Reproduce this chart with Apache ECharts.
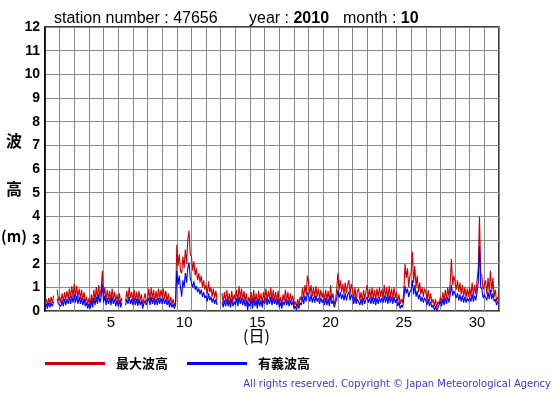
<!DOCTYPE html>
<html><head><meta charset="utf-8">
<script src="https://cdn.jsdelivr.net/npm/echarts@6/dist/echarts.min.js"></script>
<style>html,body{margin:0;padding:0;background:#fff}#c{width:555px;height:395px}</style>
</head><body><div id="c"></div>
<script>
// 2-hourly readings (12 per day), October 2010, station 47656
const maxWave = [
/*1*/ 0.3,0.5,0.25,0.55,0.3,0.6,0.35,0.65,null,null,0.9,0.45,
/*2*/ 0.6,0.35,0.75,0.4,0.8,0.45,0.85,0.5,0.95,0.55,1.05,0.6,
/*3*/ 1.15,0.6,1.05,0.55,0.95,0.5,0.9,0.45,0.8,0.35,0.6,0.25,
/*4*/ 0.55,0.25,0.7,0.3,0.9,0.45,1.0,0.5,1.1,0.6,0.95,1.7,
/*5*/ 0.6,1.0,0.45,0.9,0.5,0.85,0.4,0.95,0.5,0.8,0.4,0.7,
/*6*/ 0.35,0.75,0.3,0.55,null,null,0.4,0.85,0.5,1.0,0.55,0.8,
/*7*/ 0.4,0.9,0.45,0.8,0.35,0.85,0.45,0.7,0.25,0.5,0.75,0.4,
/*8*/ 0.5,0.95,0.45,1.0,0.5,0.9,0.4,0.85,0.45,0.95,0.5,0.9,
/*9*/ 0.55,0.95,0.5,0.85,0.4,0.75,0.3,0.6,0.3,0.5,0.2,0.4,
/*10*/ 2.8,1.9,2.4,1.7,1.6,2.3,1.8,2.6,2.0,3.0,3.4,2.4,
/*11*/ 2.3,1.7,2.1,1.5,1.8,1.3,1.6,1.2,1.5,1.0,1.3,0.9,
/*12*/ 1.1,0.7,1.25,0.8,1.0,0.6,0.95,0.55,0.85,0.45,null,null,
/*13*/ null,0.75,0.35,0.8,0.4,0.9,0.35,0.75,0.3,0.85,0.4,0.7,
/*14*/ 0.45,0.9,0.4,1.05,0.5,0.95,0.45,0.85,0.4,0.75,0.2,0.6,
/*15*/ 0.35,0.8,0.3,0.9,0.35,0.75,0.25,0.85,0.4,0.75,0.3,0.8,
/*16*/ 0.45,0.95,0.4,0.85,0.5,1.0,0.4,0.9,0.45,0.8,0.4,0.85,
/*17*/ 0.3,0.6,0.25,0.7,0.45,0.9,0.4,0.8,0.35,0.75,0.4,0.65,
/*18*/ 0.25,0.4,0.2,0.5,0.25,0.6,0.45,1.0,0.55,1.1,0.7,1.5,
/*19*/ 1.2,0.7,1.1,0.6,1.0,0.55,1.05,0.6,0.95,0.5,0.9,0.55,
/*20*/ 0.8,0.45,0.9,0.45,0.85,0.4,1.1,0.5,0.75,0.3,0.45,0.9,
/*21*/ 1.6,0.9,1.3,0.8,1.15,0.7,1.2,0.75,1.1,1.3,0.7,1.15,
/*22*/ 0.9,0.5,1.0,0.45,0.85,0.95,0.45,0.8,0.4,0.9,0.5,0.85,
/*23*/ 1.1,0.55,0.95,0.5,1.0,0.5,0.9,0.45,0.95,0.55,1.0,0.6,
/*24*/ 0.9,0.55,1.1,0.55,1.0,0.5,1.05,0.55,0.95,0.5,1.0,0.55,
/*25*/ 0.8,0.4,0.7,0.3,0.5,0.35,0.8,2.0,1.4,1.8,1.0,1.5,
/*26*/ 1.6,2.5,1.2,1.9,1.0,1.5,0.8,1.2,0.7,1.0,0.6,0.95,
/*27*/ 0.8,0.45,0.9,0.4,0.75,0.35,0.5,0.2,0.5,0.15,0.4,0.3,
/*28*/ 0.6,0.35,0.8,0.4,0.9,0.5,1.0,0.6,1.2,2.2,1.1,1.5,
/*29*/ 1.5,0.9,1.3,0.8,1.2,0.7,1.1,0.6,1.0,0.55,0.95,0.6,
/*30*/ 1.0,0.6,1.2,0.6,1.1,0.7,1.3,1.8,4.0,1.6,1.5,0.9,
/*31*/ 1.1,1.3,0.7,1.4,0.8,1.7,0.8,1.4,0.6,0.9,0.4,0.6
];
const sigWave = [
/*1*/ 0.15,0.3,0.1,0.35,0.15,0.35,0.2,0.4,null,null,0.5,0.3,
/*2*/ 0.35,0.2,0.45,0.2,0.5,0.25,0.5,0.3,0.6,0.3,0.65,0.35,
/*3*/ 0.7,0.35,0.65,0.3,0.6,0.3,0.55,0.25,0.5,0.2,0.35,0.1,
/*4*/ 0.3,0.1,0.45,0.15,0.55,0.25,0.6,0.3,0.7,0.35,0.6,1.15,
/*5*/ 0.35,0.65,0.25,0.55,0.3,0.55,0.25,0.6,0.3,0.5,0.2,0.45,
/*6*/ 0.2,0.45,0.15,0.35,null,null,0.25,0.5,0.3,0.6,0.3,0.5,
/*7*/ 0.25,0.55,0.25,0.5,0.2,0.5,0.25,0.45,0.1,0.3,0.45,0.25,
/*8*/ 0.3,0.55,0.25,0.6,0.3,0.55,0.25,0.5,0.25,0.55,0.3,0.55,
/*9*/ 0.3,0.55,0.3,0.5,0.25,0.45,0.15,0.35,0.15,0.3,0.1,0.25,
/*10*/ 1.7,1.1,1.5,1.0,0.6,1.3,1.0,1.6,1.2,1.8,2.05,1.4,
/*11*/ 1.4,1.0,1.25,0.9,1.05,0.8,0.95,0.7,0.9,0.6,0.8,0.55,
/*12*/ 0.65,0.4,0.75,0.45,0.6,0.35,0.55,0.3,0.5,0.25,null,null,
/*13*/ null,0.4,0.15,0.45,0.2,0.5,0.2,0.45,0.15,0.5,0.2,0.4,
/*14*/ 0.25,0.55,0.2,0.6,0.3,0.55,0.25,0.5,0.2,0.45,0.05,0.35,
/*15*/ 0.2,0.5,0.1,0.55,0.2,0.45,0.1,0.5,0.2,0.45,0.15,0.45,
/*16*/ 0.3,0.55,0.25,0.5,0.3,0.6,0.25,0.55,0.3,0.5,0.25,0.5,
/*17*/ 0.15,0.35,0.1,0.4,0.25,0.5,0.25,0.45,0.2,0.45,0.25,0.4,
/*18*/ 0.1,0.2,0.05,0.3,0.1,0.35,0.25,0.6,0.3,0.65,0.4,0.8,
/*19*/ 0.75,0.4,0.7,0.35,0.6,0.35,0.65,0.4,0.55,0.3,0.55,0.35,
/*20*/ 0.5,0.25,0.55,0.25,0.5,0.2,0.65,0.3,0.45,0.15,0.2,0.5,
/*21*/ 0.9,0.55,0.8,0.5,0.7,0.45,0.75,0.45,0.7,0.8,0.45,0.7,
/*22*/ 0.55,0.3,0.6,0.3,0.5,0.55,0.25,0.5,0.25,0.55,0.3,0.5,
/*23*/ 0.6,0.35,0.55,0.3,0.6,0.3,0.55,0.25,0.55,0.3,0.6,0.35,
/*24*/ 0.55,0.35,0.65,0.35,0.6,0.3,0.65,0.35,0.6,0.3,0.6,0.35,
/*25*/ 0.5,0.2,0.4,0.1,0.25,0.15,0.5,1.05,0.75,0.95,0.6,0.8,
/*26*/ 0.9,1.3,0.7,1.1,0.6,0.85,0.5,0.7,0.4,0.6,0.35,0.55,
/*27*/ 0.45,0.25,0.5,0.2,0.4,0.15,0.25,0.05,0.2,0.0,0.15,0.1,
/*28*/ 0.4,0.2,0.5,0.25,0.55,0.3,0.6,0.35,0.7,1.1,0.65,0.85,
/*29*/ 0.8,0.55,0.75,0.45,0.7,0.4,0.65,0.35,0.6,0.35,0.55,0.4,
/*30*/ 0.6,0.4,0.7,0.4,0.65,0.45,0.8,1.2,2.75,1.0,0.9,0.55,
/*31*/ 0.7,0.75,0.45,0.8,0.5,0.9,0.5,0.75,0.4,0.5,0.25,0.4
];
const pointsPerDay = 12;
const dayLabels = Array.from({length: 31}, (_, i) => String(i + 1));
const shownDays = ['5', '10', '15', '20', '25', '30'];
const seriesNames = ['最大波高', '有義波高'];
const yMin = 0, yMax = 12, yStep = 1;

const toPairs = arr => arr.map((v, i) => [i / pointsPerDay, v]);
const latin = 'Liberation Sans, Arial, sans-serif';
const cjk = '"Noto Sans CJK JP", sans-serif';
const titleStyle = {fontFamily: latin, fontSize: 16, fontWeight: 'normal', color: '#000',
  rich: {b: {fontFamily: latin, fontSize: 16, fontWeight: 'bold', color: '#000'}}};

const chart = echarts.init(document.getElementById('c'), null, {renderer: 'canvas'});
chart.setOption({
  animation: false,
  backgroundColor: '#fff',
  title: [
    {text: 'station number : 47656', left: 54, top: 11, padding: 0, textStyle: titleStyle},
    {text: 'year : {b|2010}', left: 249, top: 11, padding: 0, textStyle: titleStyle},
    {text: 'month : {b|10}', left: 343, top: 11, padding: 0, textStyle: titleStyle}
  ],
  legend: {
    left: 45, top: 357, padding: 0, icon: 'rect', itemWidth: 60, itemHeight: 3, itemGap: 19,
    data: seriesNames,
    textStyle: {fontFamily: cjk, fontSize: 13, fontWeight: 'bold', color: '#000', padding: [0, 0, 0, 6]}
  },
  grid: {left: 45, right: 56, top: 27, bottom: 84, show: true, borderColor: '#000', borderWidth: 1.5, containLabel: false},
  xAxis: [
    {type: 'value', min: 0, max: 31, interval: 1,
     axisLine: {show: false}, axisTick: {show: false}, axisLabel: {show: false},
     splitLine: {show: true, lineStyle: {color: '#8a8a8a', width: 1}}},
    {type: 'category', data: dayLabels, boundaryGap: true, position: 'bottom',
     axisLine: {show: false}, axisTick: {show: false}, splitLine: {show: false},
     axisLabel: {interval: 0, margin: 4, fontFamily: latin, fontSize: 15, color: '#000',
       formatter: v => shownDays.includes(v) ? v : ''}}
  ],
  yAxis: {
    type: 'value', min: yMin, max: yMax, interval: yStep,
    axisLine: {show: true, lineStyle: {color: '#000', width: 1.5}},
    axisTick: {show: false},
    axisLabel: {margin: 5, fontFamily: latin, fontSize: 14, fontWeight: 'bold', color: '#000'},
    splitLine: {show: true, lineStyle: {color: '#8a8a8a', width: 1}}
  },
  graphic: [
    {type: 'text', left: 6, top: 133, style: {text: '波', font: 'bold 16px "Noto Sans CJK JP"', fill: '#000'}},
    {type: 'text', left: 6, top: 181, style: {text: '高', font: 'bold 16px "Noto Sans CJK JP"', fill: '#000'}},
    {type: 'text', left: 1, top: 229, style: {text: '(m)', font: 'bold 15px "Noto Sans CJK JP"', fill: '#000'}},
    {type: 'text', left: 243, top: 328, style: {text: '(日)', font: '16px "Noto Sans CJK JP"', fill: '#000'}},
    {type: 'text', right: 4, top: 379, style: {text: 'All rights reserved. Copyright © Japan Meteorological Agency', font: '10px "DejaVu Sans"', fill: '#3a3ad0'}}
  ],
  series: [
    {name: seriesNames[0], type: 'line', xAxisIndex: 0, data: toPairs(maxWave), showSymbol: false, symbol: 'none',
     connectNulls: false, lineStyle: {color: '#cc0000', width: 1.1}, itemStyle: {color: '#cc0000'}, z: 2},
    {name: seriesNames[1], type: 'line', xAxisIndex: 0, data: toPairs(sigWave), showSymbol: false, symbol: 'none',
     connectNulls: false, lineStyle: {color: '#0000ff', width: 1.1}, itemStyle: {color: '#0000ff'}, z: 3}
  ]
});
</script></body></html>
